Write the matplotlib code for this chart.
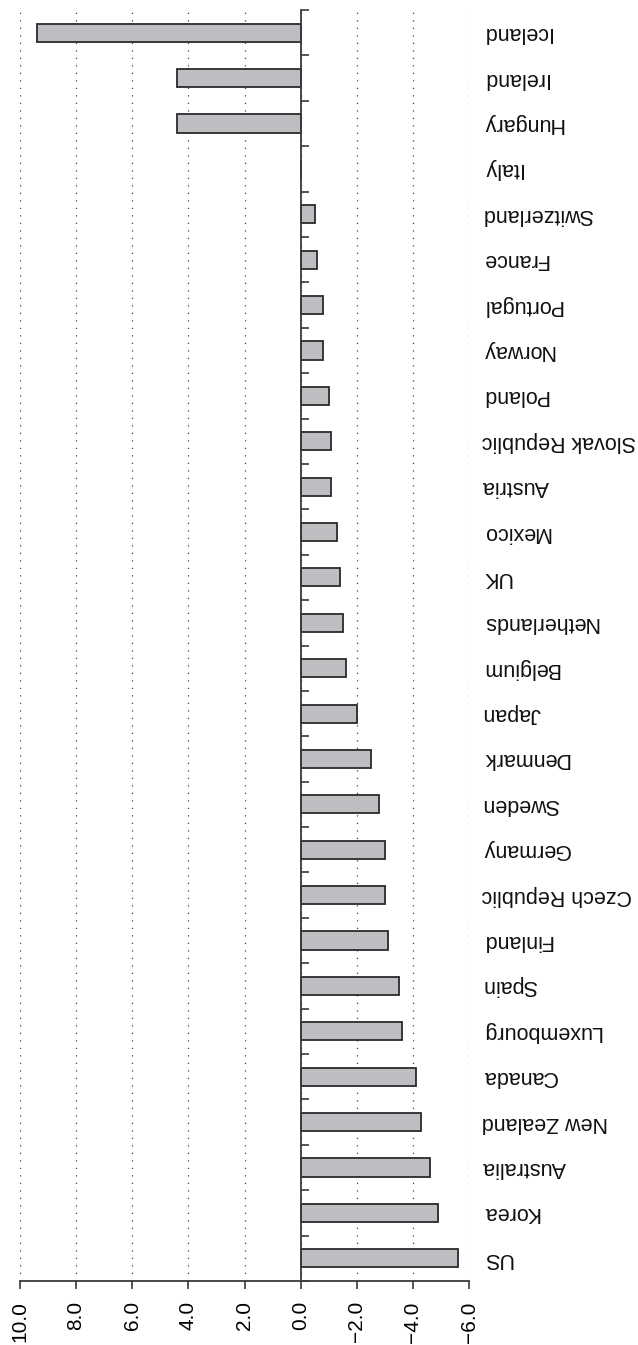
import matplotlib
matplotlib.use('Agg')
import matplotlib.pyplot as plt
import matplotlib.transforms as mtransforms
import numpy as np

plt.rcParams['font.family'] = ['Liberation Sans', 'DejaVu Sans']
plt.rcParams['axes.unicode_minus'] = True

# countries from top to bottom
paises = ['Iceland', 'Ireland', 'Hungary', 'Italy', 'Switzerland', 'France',
          'Portugal', 'Norway', 'Poland', 'Slovak Republic', 'Austria', 'Mexico',
          'UK', 'Netherlands', 'Belgium', 'Japan', 'Denmark', 'Sweden', 'Germany',
          'Czech Republic', 'Finland', 'Spain', 'Luxembourg', 'Canada',
          'New Zealand', 'Australia', 'Korea', 'US']
valores = [9.4, 4.4, 4.4, 0.0, -0.5, -0.6,
           -0.8, -0.8, -1.0, -1.1, -1.1, -1.3,
           -1.4, -1.5, -1.6, -2.0, -2.5, -2.8, -3.0,
           -3.0, -3.1, -3.5, -3.6, -4.1,
           -4.3, -4.6, -4.9, -5.6]
ticks_x = [10, 8, 6, 4, 2, 0, -2, -4, -6]

W, H = 638, 1345
fig = plt.figure(figsize=(W / 100, H / 100), dpi=100)
ax = fig.add_axes([20 / W, 1 - 1281 / H, (469 - 20) / W, (1281 - 10) / H])

cor_eixo = '#3a3a3a'
pos = np.arange(len(paises))
ax.barh(pos, valores, height=0.4, color='#bdbec1', edgecolor='#2a2a2a',
        linewidth=1.3, zorder=3)

ax.set_xlim(10, -6)
ax.set_ylim(len(paises) - 0.5, -0.5)

# eixo x
ax.set_xticks(ticks_x)
ax.set_xticklabels(['%.1f' % t if t >= 0 else '\u2212%.1f' % abs(t) for t in ticks_x],
                   rotation=90, fontsize=15)
ax.tick_params(axis='x', direction='out', length=5.5, width=1.2, color=cor_eixo, pad=9)
ax.grid(axis='x', linestyle=(0, (1, 5)), color='#444444', linewidth=0.9, zorder=0)

# eixo y no zero
ax.spines['left'].set_position(('data', 0))
ax.spines['top'].set_visible(False)
ax.spines['right'].set_visible(False)
for s in ['left', 'bottom']:
    ax.spines[s].set_color(cor_eixo)
    ax.spines[s].set_linewidth(1.3)
    ax.spines[s].set_zorder(4)
ax.set_yticks(np.arange(-0.5, len(paises), 1))
ax.set_yticklabels([])
ax.tick_params(axis='y', direction='in', length=5.5, width=1.2, color=cor_eixo)

trans = mtransforms.blended_transform_factory(ax.transAxes, ax.transData)
x_txt = (482 - 20) / (469 - 20)
for i, p in enumerate(paises):
    ax.text(x_txt, i, p, rotation=180, ha='left', va='center', fontsize=15.5,
            transform=trans, color='#111111')

fig.savefig('out.png', dpi=100)
